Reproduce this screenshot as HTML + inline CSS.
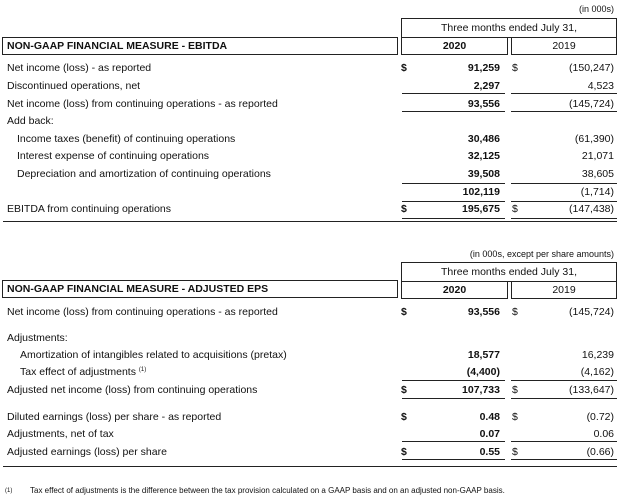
<!DOCTYPE html>
<html><head><style>
body{margin:0;width:620px;height:497px;background:#fff;position:relative;font-family:"Liberation Sans",Arial,sans-serif;font-size:10.5px;color:#111;overflow:hidden}
.t{position:absolute;white-space:nowrap;line-height:12px}
.r{position:absolute;white-space:nowrap;line-height:12px;text-align:right}
.b{font-weight:bold}
.box{position:absolute;border:1px solid #222;box-sizing:border-box}
.ln{position:absolute;height:1px;background:#222}
sup{font-size:6px;line-height:0;vertical-align:4px}
</style></head><body>
<!-- Table 1 -->
<div class="r" style="right:6px;top:3px;font-size:9px">(in 000s)</div>
<div class="box" style="left:401px;top:18px;width:216px;height:20px"></div>
<div class="t" style="left:401px;width:216px;text-align:center;top:22px">Three months ended July 31,</div>
<div class="box" style="left:2px;top:37px;width:396px;height:18px"></div>
<div class="t b" style="left:7px;top:40px">NON-GAAP FINANCIAL MEASURE - EBITDA</div>
<div class="box" style="left:401px;top:37px;width:107px;height:18px"></div>
<div class="box" style="left:511px;top:37px;width:106px;height:18px"></div>
<div class="t b" style="left:401px;width:107px;text-align:center;top:40px">2020</div>
<div class="t" style="left:511px;width:106px;text-align:center;top:40px">2019</div>

<div class="t" style="left:7px;top:62px">Net income (loss) - as reported</div>
<div class="t" style="left:7px;top:80px">Discontinued operations, net</div>
<div class="t" style="left:7px;top:98px">Net income (loss) from continuing operations - as reported</div>
<div class="t" style="left:7px;top:115px">Add back:</div>
<div class="t" style="left:17px;top:133px">Income taxes (benefit) of continuing operations</div>
<div class="t" style="left:17px;top:150px">Interest expense of continuing operations</div>
<div class="t" style="left:17px;top:168px">Depreciation and amortization of continuing operations</div>
<div class="t" style="left:7px;top:203px">EBITDA from continuing operations</div>

<div class="t b" style="left:401px;top:62px">$</div><div class="t" style="left:512px;top:62px">$</div>
<div class="r b" style="right:120px;top:62px">91,259</div><div class="r" style="right:6px;top:62px">(150,247)</div>
<div class="r b" style="right:120px;top:80px">2,297</div><div class="r" style="right:6px;top:80px">4,523</div>
<div class="ln" style="left:402px;width:103px;top:93px"></div><div class="ln" style="left:511px;width:106px;top:93px"></div>
<div class="r b" style="right:120px;top:98px">93,556</div><div class="r" style="right:6px;top:98px">(145,724)</div>
<div class="ln" style="left:402px;width:103px;top:111px"></div><div class="ln" style="left:511px;width:106px;top:111px"></div>
<div class="r b" style="right:120px;top:133px">30,486</div><div class="r" style="right:6px;top:133px">(61,390)</div>
<div class="r b" style="right:120px;top:150px">32,125</div><div class="r" style="right:6px;top:150px">21,071</div>
<div class="r b" style="right:120px;top:168px">39,508</div><div class="r" style="right:6px;top:168px">38,605</div>
<div class="ln" style="left:402px;width:103px;top:183px"></div><div class="ln" style="left:511px;width:106px;top:183px"></div>
<div class="r b" style="right:120px;top:186px">102,119</div><div class="r" style="right:6px;top:186px">(1,714)</div>
<div class="ln" style="left:402px;width:103px;top:201px"></div><div class="ln" style="left:511px;width:106px;top:201px"></div>
<div class="t b" style="left:401px;top:203px">$</div><div class="t" style="left:512px;top:203px">$</div>
<div class="r b" style="right:120px;top:203px">195,675</div><div class="r" style="right:6px;top:203px">(147,438)</div>
<div class="ln" style="left:402px;width:103px;top:218px"></div><div class="ln" style="left:511px;width:106px;top:218px"></div>
<div class="ln" style="left:3px;width:614px;top:221px"></div>

<!-- Table 2 -->
<div class="r" style="right:6px;top:248px;font-size:9px">(in 000s, except per share amounts)</div>
<div class="box" style="left:401px;top:262px;width:216px;height:20px"></div>
<div class="t" style="left:401px;width:216px;text-align:center;top:266px">Three months ended July 31,</div>
<div class="box" style="left:2px;top:280px;width:396px;height:18px"></div>
<div class="t b" style="left:7px;top:283px">NON-GAAP FINANCIAL MEASURE - ADJUSTED EPS</div>
<div class="box" style="left:401px;top:281px;width:107px;height:18px"></div>
<div class="box" style="left:511px;top:281px;width:106px;height:18px"></div>
<div class="t b" style="left:401px;width:107px;text-align:center;top:284px">2020</div>
<div class="t" style="left:511px;width:106px;text-align:center;top:284px">2019</div>

<div class="t" style="left:7px;top:306px">Net income (loss) from continuing operations - as reported</div>
<div class="t" style="left:7px;top:332px">Adjustments:</div>
<div class="t" style="left:20px;top:349px">Amortization of intangibles related to acquisitions (pretax)</div>
<div class="t" style="left:20px;top:366px">Tax effect of adjustments <sup>(1)</sup></div>
<div class="t" style="left:7px;top:384px">Adjusted net income (loss) from continuing operations</div>
<div class="t" style="left:7px;top:411px">Diluted earnings (loss) per share - as reported</div>
<div class="t" style="left:7px;top:428px">Adjustments, net of tax</div>
<div class="t" style="left:7px;top:446px">Adjusted earnings (loss) per share</div>

<div class="t b" style="left:401px;top:306px">$</div><div class="t" style="left:512px;top:306px">$</div>
<div class="r b" style="right:120px;top:306px">93,556</div><div class="r" style="right:6px;top:306px">(145,724)</div>
<div class="r b" style="right:120px;top:349px">18,577</div><div class="r" style="right:6px;top:349px">16,239</div>
<div class="r b" style="right:120px;top:366px">(4,400)</div><div class="r" style="right:6px;top:366px">(4,162)</div>
<div class="ln" style="left:402px;width:103px;top:380px"></div><div class="ln" style="left:511px;width:106px;top:380px"></div>
<div class="t b" style="left:401px;top:384px">$</div><div class="t" style="left:512px;top:384px">$</div>
<div class="r b" style="right:120px;top:384px">107,733</div><div class="r" style="right:6px;top:384px">(133,647)</div>
<div class="ln" style="left:402px;width:103px;top:398px"></div><div class="ln" style="left:511px;width:106px;top:398px"></div>
<div class="t b" style="left:401px;top:411px">$</div><div class="t" style="left:512px;top:411px">$</div>
<div class="r b" style="right:120px;top:411px">0.48</div><div class="r" style="right:6px;top:411px">(0.72)</div>
<div class="r b" style="right:120px;top:428px">0.07</div><div class="r" style="right:6px;top:428px">0.06</div>
<div class="ln" style="left:402px;width:103px;top:441px"></div><div class="ln" style="left:511px;width:106px;top:441px"></div>
<div class="t b" style="left:401px;top:446px">$</div><div class="t" style="left:512px;top:446px">$</div>
<div class="r b" style="right:120px;top:446px">0.55</div><div class="r" style="right:6px;top:446px">(0.66)</div>
<div class="ln" style="left:402px;width:103px;top:459px"></div><div class="ln" style="left:511px;width:106px;top:459px"></div>
<div class="ln" style="left:3px;width:614px;top:466px"></div>

<div class="t" style="left:5px;top:485px;font-size:6px">(1)</div>
<div class="t" style="left:30px;top:485px;font-size:8px">Tax effect of adjustments is the difference between the tax provision calculated on a GAAP basis and on an adjusted non-GAAP basis.</div>
</body></html>
